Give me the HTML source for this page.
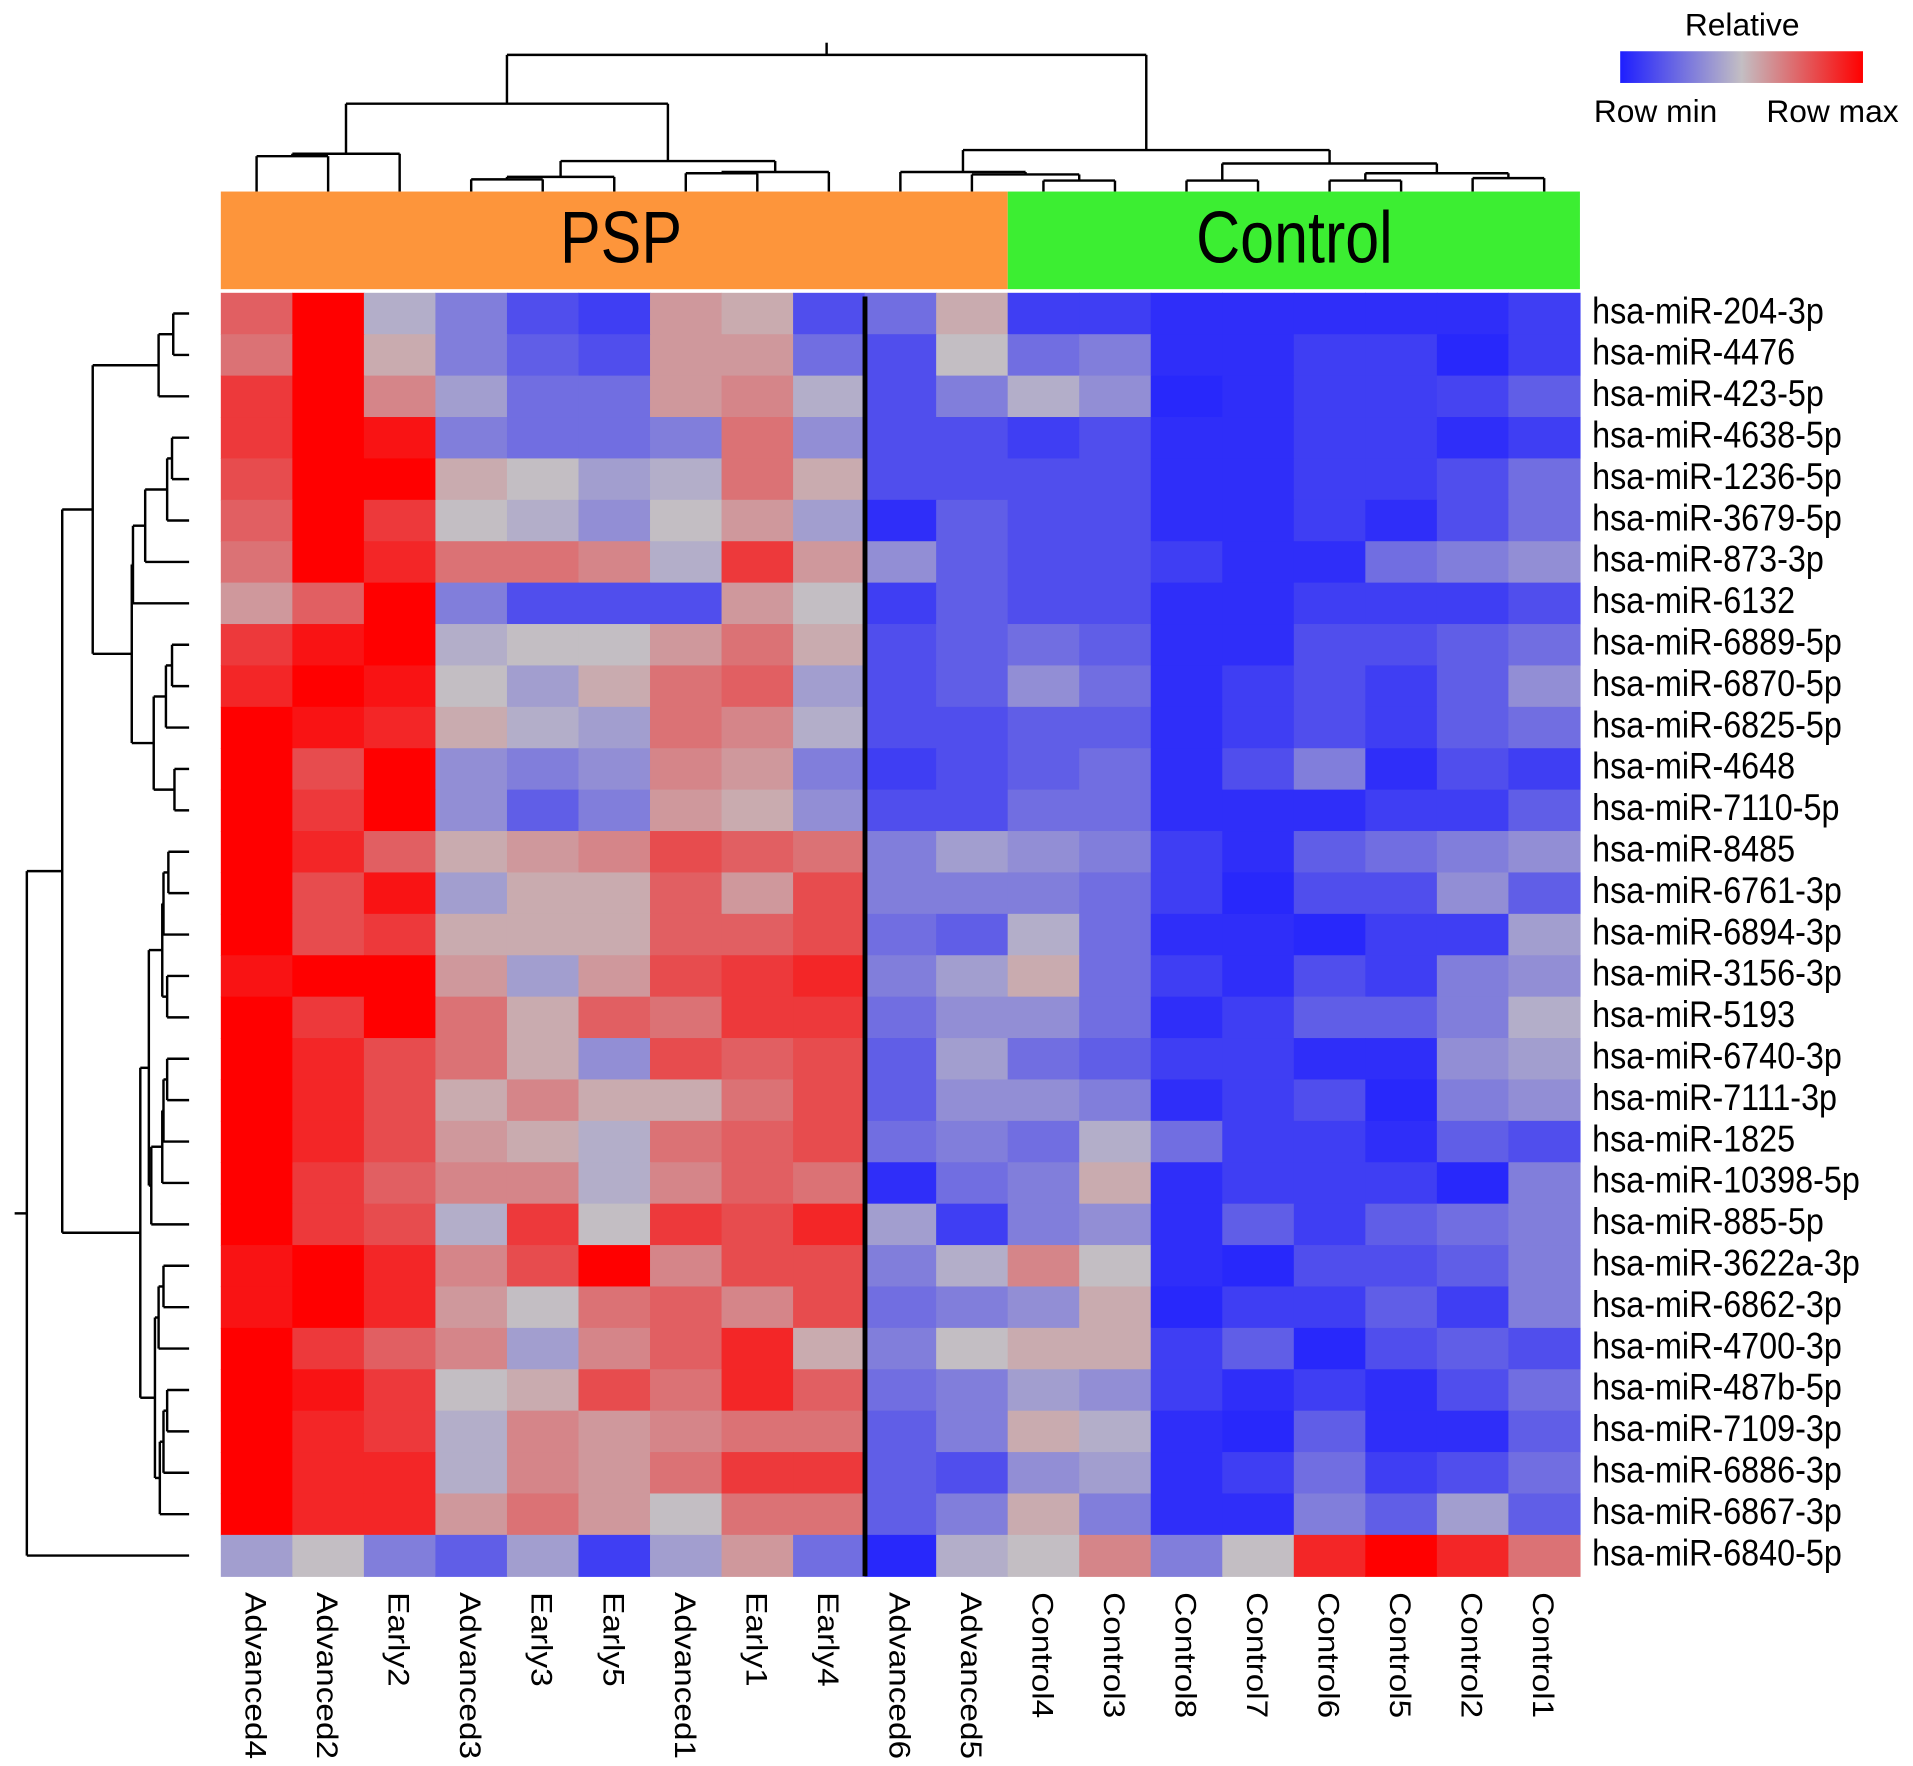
<!DOCTYPE html>
<html><head><meta charset="utf-8"><style>
html,body{margin:0;padding:0;background:#fff;}
svg{display:block;}
text{font-family:"Liberation Sans",Arial,sans-serif;}
</style></head><body>
<svg id="chart" width="1913" height="1766" viewBox="0 0 1568 1447.5" preserveAspectRatio="none" xmlns="http://www.w3.org/2000/svg">
<defs><linearGradient id="grad" x1="0" x2="1" y1="0" y2="0">
<stop offset="0" stop-color="rgb(30,30,255)"/><stop offset="0.5" stop-color="rgb(195,190,195)"/><stop offset="1" stop-color="rgb(255,0,0)"/></linearGradient></defs>
<g id="dendro-top"></g>
<g id="dendro-left"></g>
<rect x="181" y="157" width="645" height="80" fill="#fd953b"/>
<rect x="826" y="157" width="469" height="80" fill="#3cee32"/>
<text transform="translate(509 215) scale(1 1.2)" font-size="50" text-anchor="middle">PSP</text>
<text transform="translate(1061 215) scale(1 1.2)" font-size="50" text-anchor="middle">Control</text>
<g id="cells"></g>
<g id="rowlabels"></g>
<g id="collabels"></g>
<line x1="709" x2="709" y1="243" y2="1292" stroke="#000" stroke-width="4"/>
<g>
<text x="1428" y="29" font-size="26" text-anchor="middle">Relative</text>
<rect x="1328" y="42" width="199" height="26" fill="url(#grad)"/>
<text x="1357" y="100" font-size="26" text-anchor="middle">Row min</text>
<text x="1502" y="100" font-size="26" text-anchor="middle">Row max</text>
</g>
</svg>
<script>
const columns=["Advanced4","Advanced2","Early2","Advanced3","Early3","Early5","Advanced1","Early1","Early4","Advanced6","Advanced5","Control4","Control3","Control8","Control7","Control6","Control5","Control2","Control1"];
const rowsNames=["hsa-miR-204-3p","hsa-miR-4476","hsa-miR-423-5p","hsa-miR-4638-5p","hsa-miR-1236-5p","hsa-miR-3679-5p","hsa-miR-873-3p","hsa-miR-6132","hsa-miR-6889-5p","hsa-miR-6870-5p","hsa-miR-6825-5p","hsa-miR-4648","hsa-miR-7110-5p","hsa-miR-8485","hsa-miR-6761-3p","hsa-miR-6894-3p","hsa-miR-3156-3p","hsa-miR-5193","hsa-miR-6740-3p","hsa-miR-7111-3p","hsa-miR-1825","hsa-miR-10398-5p","hsa-miR-885-5p","hsa-miR-3622a-3p","hsa-miR-6862-3p","hsa-miR-4700-3p","hsa-miR-487b-5p","hsa-miR-7109-3p","hsa-miR-6886-3p","hsa-miR-6867-3p","hsa-miR-6840-5p"];
const values=[
[.75,1,.45,.3,.15,.1,.6,.55,.15,.25,.55,.1,.1,.05,.05,.05,.05,.05,.1],
[.7,1,.55,.3,.2,.15,.6,.6,.25,.15,.5,.25,.3,.05,.05,.1,.1,.03,.1],
[.85,1,.65,.4,.25,.25,.6,.65,.45,.15,.3,.45,.35,.03,.05,.1,.1,.12,.2],
[.85,1,.95,.3,.25,.25,.3,.7,.35,.15,.15,.1,.15,.05,.05,.1,.1,.05,.1],
[.8,1,1,.55,.5,.4,.45,.7,.55,.15,.15,.15,.15,.05,.05,.1,.1,.15,.25],
[.75,1,.85,.5,.45,.35,.5,.6,.4,.05,.2,.15,.15,.05,.05,.1,.05,.15,.25],
[.7,1,.9,.7,.7,.65,.45,.85,.6,.35,.2,.15,.15,.1,.05,.05,.25,.3,.35],
[.6,.75,1,.3,.15,.15,.15,.6,.5,.1,.2,.15,.15,.05,.05,.1,.1,.1,.15],
[.85,.95,1,.45,.5,.5,.6,.7,.55,.15,.2,.25,.2,.05,.05,.15,.15,.2,.25],
[.9,1,.95,.5,.4,.55,.7,.75,.4,.15,.2,.35,.25,.05,.1,.15,.1,.2,.35],
[1,.95,.9,.55,.45,.4,.7,.65,.45,.15,.15,.2,.2,.05,.1,.15,.1,.2,.25],
[1,.8,1,.35,.3,.35,.65,.6,.3,.1,.15,.2,.25,.05,.15,.3,.05,.15,.1],
[1,.85,1,.35,.2,.3,.6,.55,.35,.15,.15,.25,.25,.05,.05,.05,.1,.1,.2],
[1,.9,.75,.55,.6,.65,.8,.75,.7,.3,.4,.35,.3,.1,.05,.2,.25,.3,.35],
[1,.8,.95,.4,.55,.55,.75,.6,.8,.3,.3,.3,.25,.1,.03,.15,.15,.35,.2],
[1,.8,.85,.55,.55,.55,.75,.75,.8,.25,.2,.45,.25,.05,.05,.03,.1,.1,.4],
[.95,1,1,.6,.4,.6,.8,.85,.9,.3,.4,.55,.25,.1,.05,.15,.1,.3,.35],
[1,.85,1,.7,.55,.75,.7,.85,.85,.25,.35,.35,.25,.05,.1,.2,.2,.3,.45],
[1,.9,.8,.7,.55,.35,.8,.75,.8,.2,.4,.25,.2,.1,.1,.05,.05,.35,.4],
[1,.9,.8,.55,.65,.55,.55,.7,.8,.2,.35,.35,.3,.05,.1,.15,.03,.3,.35],
[1,.9,.8,.6,.55,.45,.7,.75,.8,.25,.3,.25,.45,.25,.1,.1,.05,.2,.15],
[1,.85,.75,.65,.65,.45,.65,.75,.7,.05,.25,.3,.55,.05,.1,.1,.1,.03,.3],
[1,.85,.8,.45,.85,.5,.85,.8,.9,.4,.1,.3,.35,.05,.2,.1,.2,.25,.3],
[.95,1,.9,.65,.8,1,.65,.8,.8,.3,.45,.65,.5,.05,.03,.15,.15,.2,.3],
[.95,1,.9,.6,.5,.7,.75,.65,.8,.25,.3,.35,.55,.03,.1,.1,.2,.1,.3],
[1,.85,.75,.65,.4,.65,.75,.9,.55,.3,.5,.55,.55,.1,.2,.03,.15,.2,.15],
[1,.95,.85,.5,.55,.8,.7,.9,.75,.25,.3,.4,.35,.1,.05,.1,.05,.15,.25],
[1,.9,.85,.45,.65,.6,.65,.7,.7,.2,.3,.55,.45,.05,.03,.2,.05,.05,.2],
[1,.9,.9,.45,.65,.6,.7,.85,.85,.2,.15,.35,.4,.05,.1,.25,.1,.15,.25],
[1,.9,.9,.6,.7,.6,.5,.7,.7,.2,.3,.55,.3,.05,.05,.3,.2,.4,.2],
[.4,.5,.3,.2,.4,.1,.4,.6,.25,.03,.45,.5,.65,.3,.5,.9,1,.9,.7]
];
// dendrogram merge trees: [left, right, height(px in layout)]
const colTree=[[[[0,1,128],2,126],[[[3,4,147],5,145],[[6,7,142],8,141],132],85],[[9,[10,[11,12,148],143],141],[[13,14,148],[[15,16,148],[17,18,146],142],134],123],45];
const rowTree=[[[[[0,1,142],2,130],[[[[[3,4,141],5,137],6,119],7,109],[[[8,9,141],10,136],[11,12,143],126],108],76],[[[[[13,14,138],15,134],[16,17,137],133],[[[[18,19,137],20,134],21,133],22,124],122],[[[23,24,134],25,130],[[[26,27,137],28,134],29,131],127],115],51],30,22];

const svgNS="http://www.w3.org/2000/svg";
const X0=181,X1=1295,Y0=240,Y1=1292;
const cw=(X1-X0)/columns.length, rh=(Y1-Y0)/rowsNames.length;
const xScale=i=>X0+i*cw, yScale=j=>Y0+j*rh;
function color(v){
  let a,b,t;
  if(v<0.5){a=[30,30,255];b=[195,190,195];t=v/0.5;}else{a=[195,190,195];b=[255,0,0];t=(v-0.5)/0.5;}
  return `rgb(${a.map((c,k)=>Math.round(c+(b[k]-c)*t)).join(',')})`;
}
const cells=document.getElementById('cells');
values.forEach((row,j)=>row.forEach((v,i)=>{
  const r=document.createElementNS(svgNS,'rect');
  r.setAttribute('x',xScale(i));r.setAttribute('y',yScale(j));
  r.setAttribute('width',cw+0.5);r.setAttribute('height',rh+0.5);
  r.setAttribute('fill',color(v));
  
  
  cells.appendChild(r);
}));
const rl=document.getElementById('rowlabels');
rowsNames.forEach((n,j)=>{
  const t=document.createElementNS(svgNS,'text');
  const y=yScale(j)+rh/2+8;
  t.setAttribute('transform',`translate(1305 ${y}) scale(1 1.15)`);
  t.setAttribute('font-size','26.5');t.textContent=n;
  
  
  rl.appendChild(t);
});
const cl=document.getElementById('collabels');
columns.forEach((n,i)=>{
  const t=document.createElementNS(svgNS,'text');
  const cx=xScale(i)+cw/2-9, cy=1305;
  t.setAttribute('transform',`translate(${cx} ${cy}) rotate(90) scale(1.14 1)`);
  t.setAttribute('font-size','24');t.textContent=n;
  
  
  cl.appendChild(t);
});
function drawTree(tree,g,leafPos,leafH,horizontal){
  function line(x1,y1,x2,y2){
    const l=document.createElementNS(svgNS,'line');
    if(horizontal){l.setAttribute('x1',y1);l.setAttribute('y1',x1);l.setAttribute('x2',y2);l.setAttribute('y2',x2);}
    else{l.setAttribute('x1',x1);l.setAttribute('y1',y1);l.setAttribute('x2',x2);l.setAttribute('y2',y2);}
    l.setAttribute('stroke','#000');l.setAttribute('stroke-width','2');
    
    
    g.appendChild(l);
  }
  function rec(n){
    if(typeof n==='number') return [leafPos(n),leafH];
    const a=rec(n[0]),b=rec(n[1]),h=n[2];
    line(a[0],a[1],a[0],h);line(b[0],b[1],b[0],h);line(a[0],h,b[0],h);
    return [(a[0]+b[0])/2,h];
  }
  const r=rec(tree);
  line(r[0],r[1],r[0],r[1]-10);
}
drawTree(colTree,document.getElementById('dendro-top'),i=>xScale(i)+cw/2,157,false);
drawTree(rowTree,document.getElementById('dendro-left'),j=>yScale(j)+rh/2,155,true);
</script>
</body></html>
